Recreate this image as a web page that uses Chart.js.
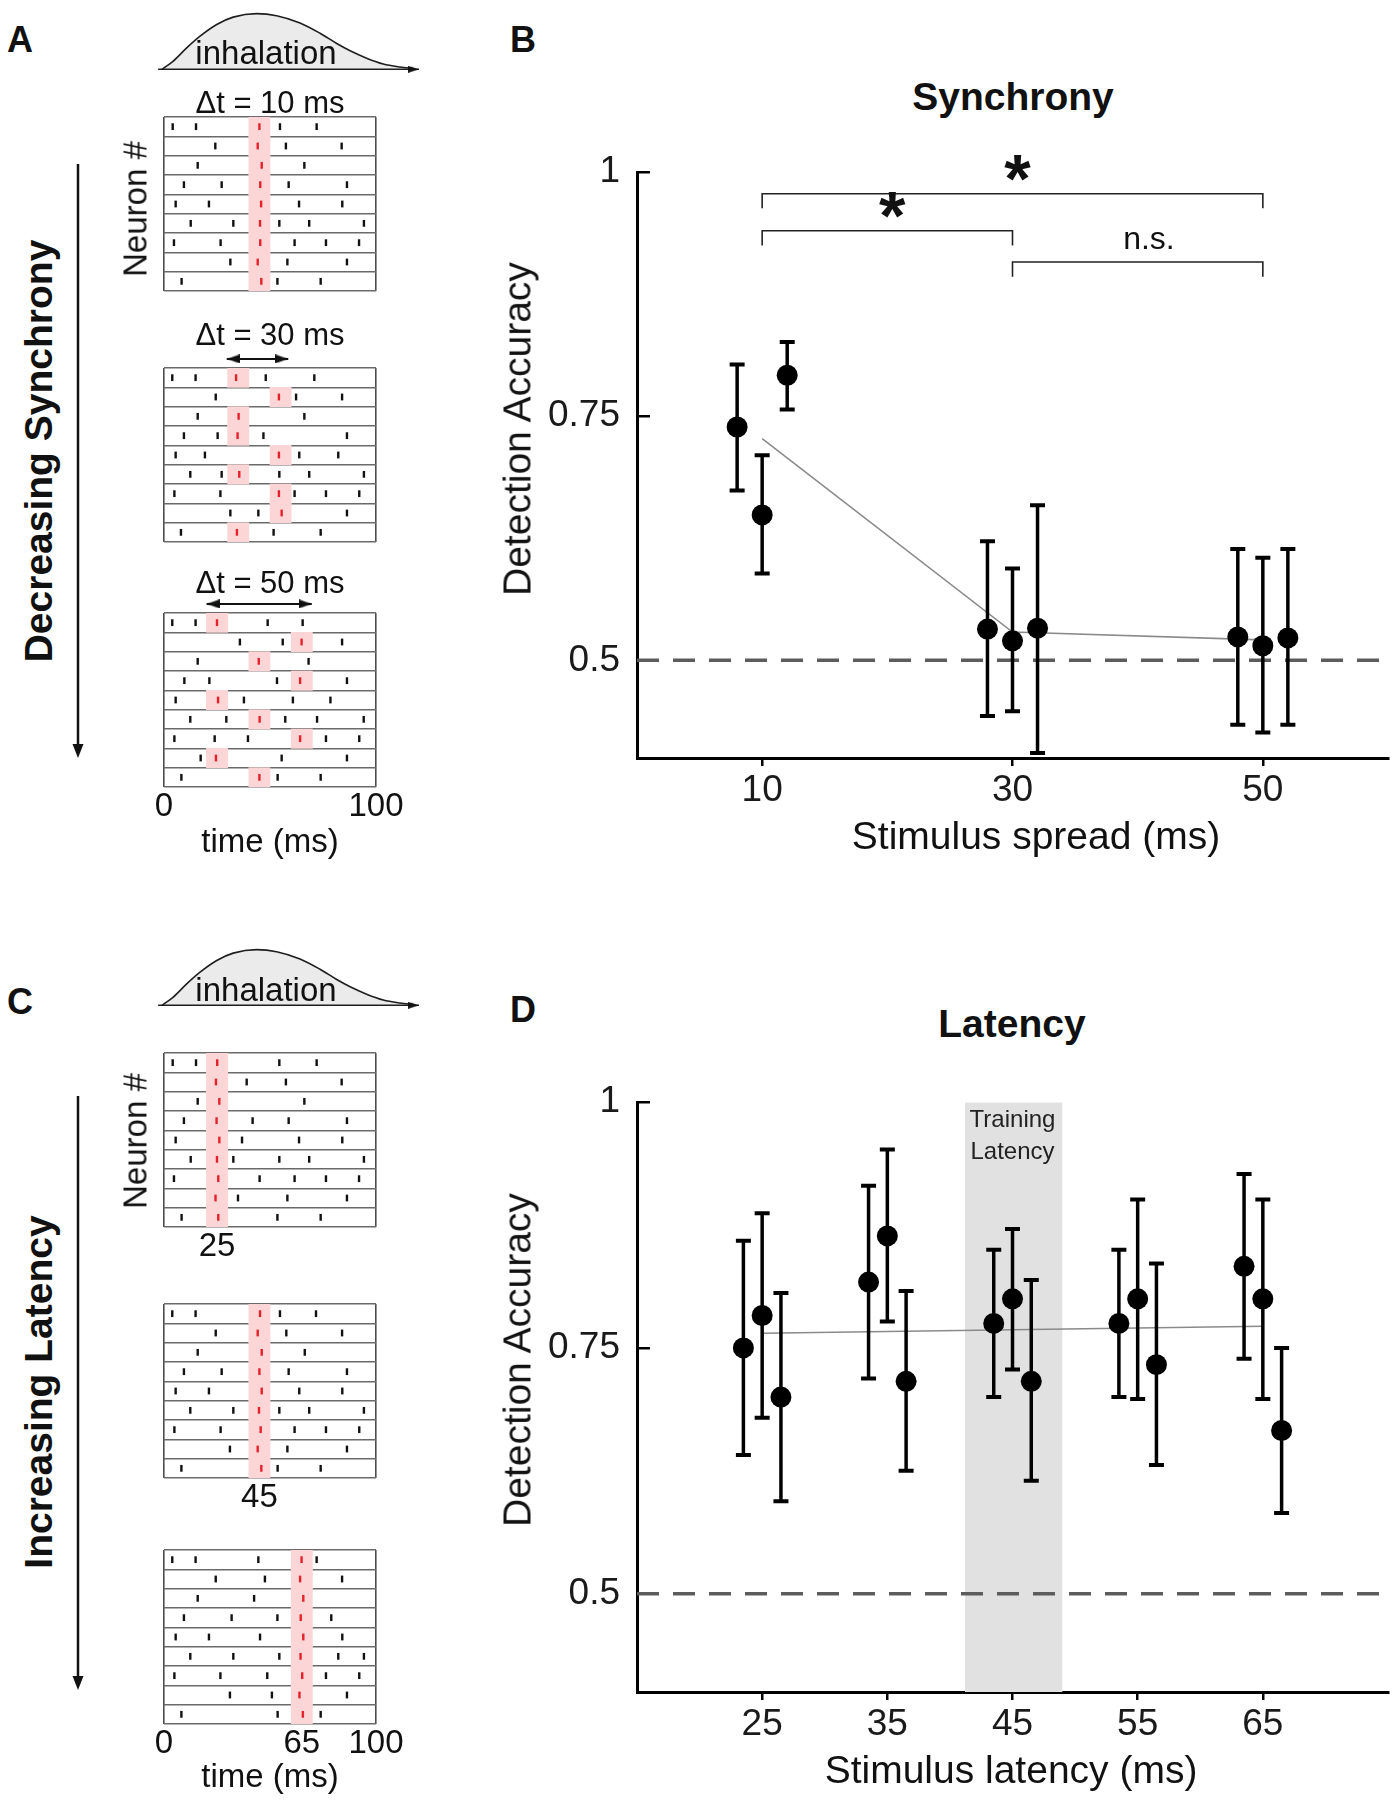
<!DOCTYPE html>
<html>
<head>
<meta charset="utf-8">
<title>Detection accuracy: synchrony and latency</title>
<script src="https://cdn.jsdelivr.net/npm/chart.js@4.4.1/dist/chart.umd.min.js"></script>
<style>
html,body{margin:0;padding:0;background:#fff}
body{position:relative;width:1400px;height:1800px;overflow:hidden;font-family:"Liberation Sans",Arial,Helvetica,sans-serif;color:#111}
canvas{position:absolute}
.lbl{position:absolute;white-space:nowrap;line-height:1;transform:translate(-50%,-50%)}
.rot{transform:translate(-50%,-50%) rotate(-90deg)}
svg.arr{position:absolute;left:0;top:0}
</style>
</head>
<body>
<svg class="arr" width="120" height="1800">
  <line x1="78" y1="164" x2="78" y2="746" stroke="#111" stroke-width="2.5"/>
  <polygon points="72.5,744 83.5,744 78,758" fill="#111"/>
  <line x1="78" y1="1096" x2="78" y2="1678" stroke="#111" stroke-width="2.5"/>
  <polygon points="72.5,1676 83.5,1676 78,1690" fill="#111"/>
</svg>
<script>
// ================= DATA =================
// Panel B: synchrony
const syncSpread   = [8, 10, 12, 28, 30, 32, 48, 50, 52];
const syncAccuracy = [0.739, 0.649, 0.792, 0.532, 0.520, 0.533, 0.524, 0.515, 0.523];
const syncErrLow   = [0.674, 0.589, 0.757, 0.443, 0.448, 0.405, 0.434, 0.426, 0.434];
const syncErrHigh  = [0.803, 0.710, 0.826, 0.622, 0.594, 0.659, 0.614, 0.605, 0.614];
const syncTrendX   = [10, 30, 50];
const syncTrendY   = [0.727, 0.529, 0.521];
const syncTicks    = [10, 30, 50];
// significance brackets (panel B)
const sigFrom   = [10, 10, 30];
const sigTo     = [50, 30, 50];
const sigBarY   = [0.978, 0.940, 0.908];
const sigFootY  = [0.963, 0.925, 0.893];
const sigLabel  = ['*', '*', 'n.s.'];
const sigLabelX = [30.4, 20.4, 40.9];
const sigLabelY = [0.9695, 0.9315, 0.9215];

// Panel D: latency
const latLatency  = [23.5, 25, 26.5, 33.5, 35, 36.5, 43.5, 45, 46.5, 53.5, 55, 56.5, 63.5, 65, 66.5];
const latAccuracy = [0.750, 0.783, 0.700, 0.817, 0.864, 0.716, 0.775, 0.800, 0.716, 0.775, 0.800, 0.733, 0.833, 0.800, 0.666];
const latErrLow   = [0.641, 0.679, 0.594, 0.719, 0.777, 0.625, 0.700, 0.728, 0.615, 0.700, 0.698, 0.631, 0.739, 0.698, 0.582];
const latErrHigh  = [0.859, 0.887, 0.806, 0.915, 0.952, 0.808, 0.850, 0.871, 0.819, 0.850, 0.901, 0.836, 0.927, 0.901, 0.750];
const latTrendX   = [25, 65];
const latTrendY   = [0.765, 0.772];
const latTicks    = [25, 35, 45, 55, 65];
const trainingWindow = [41.2, 49];
const trainingText   = ['Training', 'Latency'];
const trainingTextY  = [0.9748, 0.9425];

const accTicks      = [0.5, 0.75, 1];
const accTickLabels = ['0.5', '0.75', '1'];
const chanceLevel   = 0.5;

// inhalation schematic (time 0-100, normalised flow)
const breathTime = [0, 4.4, 9.6, 14.8, 21.3, 27.7, 36.8, 44.6, 53.7, 61.5, 68.0, 73.2, 79.6, 86.1, 92.6, 97.8];
const breathFlow = [0, 0.147, 0.384, 0.595, 0.805, 0.937, 1.0, 0.963, 0.832, 0.647, 0.463, 0.332, 0.2, 0.095, 0.042, 0.016];

// raster schematics: background spike times per neuron (ms), stimulus spikes, stimulus windows
const rasterA1Spikes = [[4.1,15.1,54.7,72.0],[24.2,57.5,83.8],[15.9,66.2],[9.4,27.2,58.8,86.3],[5.5,21.2,63.7,84.1],[12.6,32.7,54.4,68.5,94.3],[4.7,26.7,61.6,76.4,92.0],[31.3,58.2,86.3],[8.3,53.5,73.9]];
const rasterA1Stim   = [45.0,44.2,46.1,45.4,45.8,45.3,45.4,44.2,45.9];
const rasterA1Window = [45,45,45,45,45,45,45,45,45];

const rasterA2Spikes = [[3.9,14.9,48.0,70.9],[24.4,62.3,84.0],[15.9,66.2],[9.4,25.3,46.9,86.3],[5.5,19.3,63.8,82.2],[12.4,27.2,54.4,68.5,94.3],[4.9,26.6,61.6,76.4,92.1],[31.3,44.5,86.3],[8.0,51.7,73.9]];
const rasterA2Stim   = [34.0,54.2,35.2,34.7,54.2,35.5,54.2,55.5,34.4];
const rasterA2Window = [35,55,35,35,55,35,55,55,35];

const rasterA3Spikes = [[3.9,14.9,48.9,65.4],[35.8,56.0,84.0],[15.9,68.2],[9.6,21.4,53.3,86.3],[5.5,37.7,60.8,78.5],[12.4,29.4,57.2,72.2,94.2],[4.9,23.9,39.6,76.4,92.1],[17.3,55.5,86.3],[8.2,53.6,73.9]];
const rasterA3Stim   = [25.0,64.9,44.7,64.2,25.5,45.1,64.2,24.5,45.0];
const rasterA3Window = [25,65,45,65,25,45,65,25,45];

const rasterC1Spikes = [[4.1,15.1,54.4,72.0],[39.0,57.5,83.8],[15.9,66.2],[9.4,41.8,58.8,86.3],[5.5,36.8,63.7,84.1],[12.6,32.7,54.4,68.5,94.3],[4.7,45.1,61.6,76.4,92.0],[34.9,58.2,86.3],[8.3,53.5,73.9]];
const rasterC1Stim   = [25.1,24.5,26.1,24.8,26.1,25.0,25.6,24.3,25.6];
const rasterC1Window = [25,25,25,25,25,25,25,25,25];

const rasterC2Spikes = [[3.9,14.9,54.7,71.7],[24.4,57.7,84.0],[15.9,66.4],[9.4,27.2,58.8,86.3],[5.5,21.2,63.8,84.1],[12.4,32.7,54.4,68.5,94.3],[4.9,26.7,61.6,76.4,92.1],[31.1,58.2,86.3],[8.2,53.6,73.9]];
const rasterC2Stim   = [45.3,44.2,46.1,45.0,46.1,44.8,45.6,44.2,45.9];
const rasterC2Window = [45,45,45,45,45,45,45,45,45];

const rasterC3Spikes = [[3.9,14.9,44.5,72.0],[24.4,47.6,84.0],[15.9,42.5],[9.4,31.9,53.5,78.9],[5.5,21.2,45.3,84.1],[12.4,32.7,54.4,82.2,94.3],[4.9,26.6,48.7,76.4,92.1],[31.1,50.9,86.3],[8.2,53.6,73.9]];
const rasterC3Stim   = [64.9,64.2,65.7,64.5,65.7,64.4,65.2,63.9,65.5];
const rasterC3Window = [65,65,65,65,65,65,65,65,65];

const rasterA2Spread = [29.6, 58.6];
const rasterA3Spread = [20.1, 69.7];
const rasterA3Ticks = [0, 100],     rasterA3TickLabels = ['0', '100'];
const rasterC1Ticks = [25],         rasterC1TickLabels = ['25'];
const rasterC2Ticks = [45],         rasterC2TickLabels = ['45'];
const rasterC3Ticks = [0, 65, 100], rasterC3TickLabels = ['0', '65', '100'];

// ================= RENDERING =================
const FONT = '"Liberation Sans", Arial, Helvetica, sans-serif';
Chart.defaults.font.family = FONT;
Chart.defaults.color = '#111';

function makeCanvas(left, top, w, h) {
  const c = document.createElement('canvas');
  c.width = w; c.height = h;
  c.style.left = left + 'px'; c.style.top = top + 'px';
  c.style.width = w + 'px'; c.style.height = h + 'px';
  document.body.appendChild(c);
  return c;
}
function addText(text, x, y, size, opt) {
  opt = opt || {};
  const d = document.createElement('div');
  d.className = 'lbl' + (opt.rot ? ' rot' : '');
  d.textContent = text;
  d.style.left = x + 'px'; d.style.top = y + 'px';
  d.style.fontSize = size + 'px';
  if (opt.bold) d.style.fontWeight = 'bold';
  document.body.appendChild(d);
}
function arrowImg(dir, len, wid) {
  const c = document.createElement('canvas');
  c.width = len * 2; c.height = wid;
  const g = c.getContext('2d');
  g.fillStyle = '#111';
  g.beginPath();
  if (dir === 'r') { g.moveTo(0, 0); g.lineTo(len, wid / 2); g.lineTo(0, wid); }
  else { g.moveTo(2 * len, 0); g.lineTo(len, wid / 2); g.lineTo(2 * len, wid); }
  g.closePath(); g.fill();
  return c;
}
const ARROW_L = arrowImg('l', 13, 9);
const ARROW_R = arrowImg('r', 13, 9);
const ARROW_S = arrowImg('r', 11, 7);

function baseOpts() {
  return {responsive: false, maintainAspectRatio: false, animation: false, events: [],
          plugins: {legend: {display: false}, tooltip: {enabled: false}}};
}

const textPlugin = {
  id: 'txt',
  afterDatasetsDraw(chart, args, opts) {
    const ctx = chart.ctx, xs = chart.scales.x, ys = chart.scales.y;
    const items = opts.items || [];
    ctx.save();
    for (let k = 0; k < items.length; k++) {
      const it = items[k];
      ctx.font = (it.bold ? 'bold ' : '') + it.size + 'px ' + FONT;
      ctx.fillStyle = it.color || '#111';
      ctx.textAlign = 'center';
      ctx.textBaseline = 'alphabetic';
      ctx.fillText(it.text, xs.getPixelForValue(it.x), ys.getPixelForValue(it.y));
    }
    ctx.restore();
  }
};

// ---------- raster schematic ----------
const RASTER_LEFT = 164, RASTER_W = 212, RASTER_H = 174, WIN = 10;
function raster(boxTop, spikes, stim, windows, labelVals, labelTexts, arrowSpan) {
  const padX = 34, padTop = 24, labelH = 46;
  const cv = makeCanvas(RASTER_LEFT - padX, boxTop - padTop, RASTER_W + 2 * padX, padTop + RASTER_H + labelH);
  const pts = [];
  spikes.forEach((row, i) => row.forEach(t => pts.push({x: t, y: i + 0.5})));
  const ds = [
    {type: 'bar', indexAxis: 'y',
     data: windows.map((c, i) => ({x: [c - WIN / 2, c + WIN / 2], y: i + 0.5})),
     backgroundColor: 'rgb(252,214,214)', borderWidth: 0, barPercentage: 1, categoryPercentage: 1, order: 5},
    {data: pts, pointStyle: 'line', pointRotation: 90, pointRadius: 3.4, pointBorderWidth: 2.4,
     pointBorderColor: '#111', pointBackgroundColor: '#111', order: 2},
    {data: stim.map((t, i) => ({x: t, y: i + 0.5})), pointStyle: 'line', pointRotation: 90, pointRadius: 3.4,
     pointBorderWidth: 2.4, pointBorderColor: '#e5222b', pointBackgroundColor: '#e5222b', order: 1}
  ];
  if (arrowSpan) {
    ds.push({data: [{x: arrowSpan[0], y: -0.47}, {x: arrowSpan[1], y: -0.47}], showLine: true,
             borderColor: '#111', borderWidth: 2, pointStyle: [ARROW_L, ARROW_R], pointRadius: 16,
             clip: false, order: 0});
  }
  const labelMap = {};
  labelVals.forEach((v, i) => { labelMap[v] = labelTexts[i]; });
  const xt = Array.from(new Set([0, 100].concat(labelVals))).sort((a, b) => a - b);
  const o = baseOpts();
  o.layout = {padding: {left: padX, right: padX, top: padTop, bottom: 0}};
  o.scales = {
    x: {type: 'linear', min: 0, max: 100, offset: false, z: 1,
        afterBuildTicks: s => { s.ticks = xt.map(v => ({value: v})); },
        afterFit: s => { s.height = labelH; },
        ticks: {autoSkip: false, maxRotation: 0, minRotation: 0, padding: 0, font: {size: 33}, color: '#111',
                callback: v => (labelMap[v] !== undefined ? labelMap[v] : '')},
        grid: {drawTicks: false, offset: false, lineWidth: 1.6,
               color: c => (c.tick && (c.tick.value === 0 || c.tick.value === 100)) ? '#4d4d4d' : 'rgba(0,0,0,0)'},
        border: {display: false}},
    y: {type: 'linear', min: 0, max: spikes.length, reverse: true, offset: false, z: 1,
        afterFit: s => { s.width = 0; },
        ticks: {display: false, stepSize: 1},
        grid: {drawTicks: false, offset: false, lineWidth: 1.6, color: '#6a6a6a'},
        border: {display: false}}
  };
  new Chart(cv, {type: 'scatter', data: {datasets: ds}, options: o});
}

// ---------- inhalation schematic ----------
function breath(top) {
  const cv = makeCanvas(140, top, 300, 84);
  const o = baseOpts();
  o.layout = {padding: {left: 22, right: 21, top: 6, bottom: 14.7}};
  o.scales = {x: {display: false, type: 'linear', min: 0, max: 100},
              y: {display: false, type: 'linear', min: 0, max: 1}};
  new Chart(cv, {type: 'scatter', data: {datasets: [
    {data: breathTime.map((t, i) => ({x: t, y: breathFlow[i]})), showLine: true, fill: 'origin',
     backgroundColor: '#ebebeb', borderColor: '#1e1e1e', borderWidth: 1.6, pointRadius: 0,
     cubicInterpolationMode: 'monotone', clip: false, order: 2},
    {data: [{x: -1.5, y: 0}, {x: 100, y: 0}], showLine: true, borderColor: '#1e1e1e', borderWidth: 1.6,
     pointRadius: [0, 12], pointStyle: ARROW_S, clip: false, order: 1}
  ]}, options: o});
}

// ---------- main accuracy charts ----------
function mainChart(p) {
  const cv = makeCanvas(520, p.top, 880, 720);
  const ds = [];
  if (p.shade) {
    ds.push({data: [{x: p.shade[0], y: 1}, {x: p.shade[1], y: 1}], showLine: true, fill: 'start',
             backgroundColor: '#e1e1e1', borderColor: 'rgba(0,0,0,0)', borderWidth: 0, pointRadius: 0, order: 10});
  }
  ds.push({data: [{x: p.xMin, y: chanceLevel}, {x: p.xMax, y: chanceLevel}], showLine: true,
           borderColor: '#5c5c5c', borderWidth: 3.5, borderDash: [22, 14], pointRadius: 0, order: 8});
  ds.push({data: p.trendX.map((x, i) => ({x: x, y: p.trendY[i]})), showLine: true,
           borderColor: '#8a8a8a', borderWidth: 1.6, pointRadius: 0, order: 7});
  const err = [];
  p.xs.forEach((x, i) => { err.push({x: x, y: p.lo[i]}, {x: x, y: p.hi[i]}, {x: x, y: null}); });
  ds.push({data: err, showLine: true, spanGaps: false, borderColor: '#000', borderWidth: 3.5,
           pointStyle: 'line', pointRadius: 7.5, pointBorderWidth: 4, pointBorderColor: '#000', order: 3});
  ds.push({data: p.xs.map((x, i) => ({x: x, y: p.ys[i]})), pointStyle: 'circle', pointRadius: 10.5,
           pointBackgroundColor: '#000', pointBorderColor: '#000', pointBorderWidth: 0, order: 1});
  if (p.brackets) {
    const br = [];
    sigFrom.forEach((f, i) => {
      br.push({x: f, y: sigFootY[i]}, {x: f, y: sigBarY[i]}, {x: sigTo[i], y: sigBarY[i]},
              {x: sigTo[i], y: sigFootY[i]}, {x: sigTo[i], y: null});
    });
    ds.push({data: br, showLine: true, spanGaps: false, borderColor: '#222', borderWidth: 1.6, pointRadius: 0, order: 6});
  }
  const o = baseOpts();
  o.plugins.txt = {items: p.items};
  o.layout = {padding: {left: 0, right: 12, top: p.padTop, bottom: 0}};
  o.scales = {
    x: {type: 'linear', min: p.xMin, max: p.xMax, z: 1,
        afterBuildTicks: s => { s.ticks = p.xTicks.map(v => ({value: v})); },
        afterFit: s => { s.height = p.axisH; },
        ticks: {autoSkip: false, maxRotation: 0, minRotation: 0, padding: 3, font: {size: 37}, color: '#1a1a1a',
                callback: v => String(v)},
        grid: {drawOnChartArea: false, drawTicks: true, tickLength: 8, lineWidth: 2.5, color: '#000'},
        border: {display: true, width: 3, color: '#000'}},
    y: {type: 'linear', min: 0.4, max: 1, z: 1,
        afterBuildTicks: s => { s.ticks = accTicks.map(v => ({value: v})); },
        afterFit: s => { s.width = 117; },
        ticks: {padding: 30, font: {size: 37}, color: '#1a1a1a',
                callback: v => accTickLabels[accTicks.indexOf(v)]},
        grid: {drawOnChartArea: false, drawTicks: true, tickLength: -13, lineWidth: 2.5, color: '#000'},
        border: {display: true, width: 3, color: '#000'}}
  };
  new Chart(cv, {type: 'scatter', data: {datasets: ds}, options: o, plugins: [textPlugin]});
}

// ---- build panels ----
breath(0);
breath(936);

raster(117,  rasterA1Spikes, rasterA1Stim, rasterA1Window, [], [], null);
raster(368,  rasterA2Spikes, rasterA2Stim, rasterA2Window, [], [], rasterA2Spread);
raster(613,  rasterA3Spikes, rasterA3Stim, rasterA3Window, rasterA3Ticks, rasterA3TickLabels, rasterA3Spread);
raster(1053, rasterC1Spikes, rasterC1Stim, rasterC1Window, rasterC1Ticks, rasterC1TickLabels, null);
raster(1304, rasterC2Spikes, rasterC2Stim, rasterC2Window, rasterC2Ticks, rasterC2TickLabels, null);
raster(1550, rasterC3Spikes, rasterC3Stim, rasterC3Window, rasterC3Ticks, rasterC3TickLabels, null);

mainChart({top: 120, padTop: 46, axisH: 82, xMin: 0, xMax: 60, xTicks: syncTicks,
  xs: syncSpread, ys: syncAccuracy, lo: syncErrLow, hi: syncErrHigh,
  trendX: syncTrendX, trendY: syncTrendY, brackets: true,
  items: sigLabel.map((t, i) => ({x: sigLabelX[i], y: sigLabelY[i], text: t,
                                  size: t === '*' ? 68 : 32, bold: t === '*'}))});

mainChart({top: 1050, padTop: 47, axisH: 78, xMin: 15, xMax: 75, xTicks: latTicks,
  xs: latLatency, ys: latAccuracy, lo: latErrLow, hi: latErrHigh,
  trendX: latTrendX, trendY: latTrendY, shade: trainingWindow,
  items: trainingText.map((t, i) => ({x: 45, y: trainingTextY[i], text: t, size: 24, color: '#222'}))});

// ---- text labels ----
addText('A', 20, 40, 36, {bold: true});
addText('B', 523, 40, 36, {bold: true});
addText('C', 20, 1002, 36, {bold: true});
addText('D', 523, 1010, 36, {bold: true});
addText('inhalation', 266, 52, 33);
addText('inhalation', 266, 989, 33);
addText('\u0394t = 10 ms', 270, 102, 31);
addText('\u0394t = 30 ms', 270, 334, 31);
addText('\u0394t = 50 ms', 270, 582, 31);
addText('Neuron #', 135, 209, 33, {rot: true});
addText('Neuron #', 135, 1141, 33, {rot: true});
addText('time (ms)', 270, 840, 33);
addText('time (ms)', 270, 1775, 33);
addText('Decreasing Synchrony', 38, 451, 39, {bold: true, rot: true});
addText('Increasing Latency', 38, 1392, 39, {bold: true, rot: true});
addText('Synchrony', 1013, 95.5, 39, {bold: true});
addText('Latency', 1012, 1023, 39, {bold: true});
addText('Detection Accuracy', 517, 429, 39, {rot: true});
addText('Detection Accuracy', 517, 1360, 39, {rot: true});
addText('Stimulus spread (ms)', 1036, 835, 39);
addText('Stimulus latency (ms)', 1011, 1769, 39);
</script>
</body>
</html>
